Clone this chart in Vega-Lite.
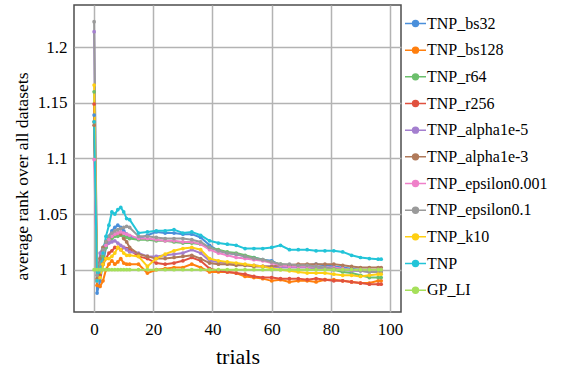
{
"$schema": "https://vega.github.io/schema/vega-lite/v6.json",
"width": 327, "height": 307,
"autosize": "none",
"padding": {"left": 74, "top": 5, "right": 170, "bottom": 57},
"background": "white",
"config": {"view": {"stroke": "#4d4d4d", "strokeWidth": 1.5}, "font": "Liberation Serif"},
"data": {"values": [
{"s":"TNP_bs32","x":0,"y":1.139},{"s":"TNP_bs32","x":1,"y":0.979},{"s":"TNP_bs32","x":2,"y":0.99},{"s":"TNP_bs32","x":3,"y":1.005},{"s":"TNP_bs32","x":4,"y":1.02},{"s":"TNP_bs32","x":5,"y":1.03},{"s":"TNP_bs32","x":6,"y":1.035},{"s":"TNP_bs32","x":7,"y":1.038},{"s":"TNP_bs32","x":8,"y":1.04},{"s":"TNP_bs32","x":9,"y":1.038},{"s":"TNP_bs32","x":10,"y":1.035},{"s":"TNP_bs32","x":11,"y":1.032},{"s":"TNP_bs32","x":12,"y":1.03},{"s":"TNP_bs32","x":15,"y":1.028},{"s":"TNP_bs32","x":18,"y":1.031},{"s":"TNP_bs32","x":21,"y":1.034},{"s":"TNP_bs32","x":24,"y":1.033},{"s":"TNP_bs32","x":27,"y":1.033},{"s":"TNP_bs32","x":30,"y":1.032},{"s":"TNP_bs32","x":33,"y":1.032},{"s":"TNP_bs32","x":36,"y":1.029},{"s":"TNP_bs32","x":39,"y":1.022},{"s":"TNP_bs32","x":42,"y":1.017},{"s":"TNP_bs32","x":45,"y":1.015},{"s":"TNP_bs32","x":48,"y":1.014},{"s":"TNP_bs32","x":51,"y":1.012},{"s":"TNP_bs32","x":54,"y":1.011},{"s":"TNP_bs32","x":57,"y":1.009},{"s":"TNP_bs32","x":60,"y":1.008},{"s":"TNP_bs32","x":63,"y":1.004},{"s":"TNP_bs32","x":66,"y":1.003},{"s":"TNP_bs32","x":69,"y":1.003},{"s":"TNP_bs32","x":72,"y":1.004},{"s":"TNP_bs32","x":75,"y":1.005},{"s":"TNP_bs32","x":78,"y":1.004},{"s":"TNP_bs32","x":81,"y":1.003},{"s":"TNP_bs32","x":84,"y":1.002},{"s":"TNP_bs32","x":87,"y":1.001},{"s":"TNP_bs32","x":90,"y":1.0},{"s":"TNP_bs32","x":93,"y":1.0},{"s":"TNP_bs32","x":96,"y":0.999},{"s":"TNP_bs32","x":97,"y":0.999},
{"s":"TNP_bs128","x":0,"y":1.133},{"s":"TNP_bs128","x":1,"y":0.986},{"s":"TNP_bs128","x":2,"y":0.985},{"s":"TNP_bs128","x":3,"y":0.99},{"s":"TNP_bs128","x":4,"y":1.0},{"s":"TNP_bs128","x":5,"y":1.005},{"s":"TNP_bs128","x":6,"y":1.008},{"s":"TNP_bs128","x":7,"y":1.005},{"s":"TNP_bs128","x":8,"y":1.007},{"s":"TNP_bs128","x":9,"y":1.01},{"s":"TNP_bs128","x":10,"y":1.006},{"s":"TNP_bs128","x":11,"y":1.005},{"s":"TNP_bs128","x":12,"y":1.005},{"s":"TNP_bs128","x":15,"y":1.005},{"s":"TNP_bs128","x":18,"y":0.997},{"s":"TNP_bs128","x":21,"y":1.0},{"s":"TNP_bs128","x":24,"y":1.001},{"s":"TNP_bs128","x":27,"y":1.002},{"s":"TNP_bs128","x":30,"y":1.002},{"s":"TNP_bs128","x":33,"y":1.005},{"s":"TNP_bs128","x":36,"y":1.002},{"s":"TNP_bs128","x":39,"y":0.998},{"s":"TNP_bs128","x":42,"y":0.998},{"s":"TNP_bs128","x":45,"y":0.998},{"s":"TNP_bs128","x":48,"y":0.997},{"s":"TNP_bs128","x":51,"y":0.994},{"s":"TNP_bs128","x":54,"y":0.993},{"s":"TNP_bs128","x":57,"y":0.992},{"s":"TNP_bs128","x":60,"y":0.99},{"s":"TNP_bs128","x":63,"y":0.991},{"s":"TNP_bs128","x":66,"y":0.989},{"s":"TNP_bs128","x":69,"y":0.99},{"s":"TNP_bs128","x":72,"y":0.99},{"s":"TNP_bs128","x":75,"y":0.989},{"s":"TNP_bs128","x":78,"y":0.991},{"s":"TNP_bs128","x":81,"y":0.991},{"s":"TNP_bs128","x":84,"y":0.99},{"s":"TNP_bs128","x":87,"y":0.989},{"s":"TNP_bs128","x":90,"y":0.988},{"s":"TNP_bs128","x":93,"y":0.988},{"s":"TNP_bs128","x":96,"y":0.99},{"s":"TNP_bs128","x":97,"y":0.99},
{"s":"TNP_r64","x":0,"y":1.16},{"s":"TNP_r64","x":1,"y":0.99},{"s":"TNP_r64","x":2,"y":0.995},{"s":"TNP_r64","x":3,"y":1.012},{"s":"TNP_r64","x":4,"y":1.02},{"s":"TNP_r64","x":5,"y":1.025},{"s":"TNP_r64","x":6,"y":1.028},{"s":"TNP_r64","x":7,"y":1.03},{"s":"TNP_r64","x":8,"y":1.03},{"s":"TNP_r64","x":9,"y":1.031},{"s":"TNP_r64","x":10,"y":1.03},{"s":"TNP_r64","x":11,"y":1.029},{"s":"TNP_r64","x":12,"y":1.028},{"s":"TNP_r64","x":15,"y":1.027},{"s":"TNP_r64","x":18,"y":1.027},{"s":"TNP_r64","x":21,"y":1.026},{"s":"TNP_r64","x":24,"y":1.026},{"s":"TNP_r64","x":27,"y":1.025},{"s":"TNP_r64","x":30,"y":1.024},{"s":"TNP_r64","x":33,"y":1.024},{"s":"TNP_r64","x":36,"y":1.023},{"s":"TNP_r64","x":39,"y":1.02},{"s":"TNP_r64","x":42,"y":1.018},{"s":"TNP_r64","x":45,"y":1.016},{"s":"TNP_r64","x":48,"y":1.015},{"s":"TNP_r64","x":51,"y":1.013},{"s":"TNP_r64","x":54,"y":1.011},{"s":"TNP_r64","x":57,"y":1.009},{"s":"TNP_r64","x":60,"y":1.007},{"s":"TNP_r64","x":63,"y":1.005},{"s":"TNP_r64","x":66,"y":1.004},{"s":"TNP_r64","x":69,"y":1.004},{"s":"TNP_r64","x":72,"y":1.003},{"s":"TNP_r64","x":75,"y":1.002},{"s":"TNP_r64","x":78,"y":1.001},{"s":"TNP_r64","x":81,"y":1.0},{"s":"TNP_r64","x":84,"y":0.998},{"s":"TNP_r64","x":87,"y":0.997},{"s":"TNP_r64","x":90,"y":0.995},{"s":"TNP_r64","x":93,"y":0.993},{"s":"TNP_r64","x":96,"y":0.993},{"s":"TNP_r64","x":97,"y":0.993},
{"s":"TNP_r256","x":0,"y":1.149},{"s":"TNP_r256","x":1,"y":0.99},{"s":"TNP_r256","x":2,"y":0.995},{"s":"TNP_r256","x":3,"y":1.005},{"s":"TNP_r256","x":4,"y":1.01},{"s":"TNP_r256","x":5,"y":1.015},{"s":"TNP_r256","x":6,"y":1.017},{"s":"TNP_r256","x":7,"y":1.02},{"s":"TNP_r256","x":8,"y":1.02},{"s":"TNP_r256","x":9,"y":1.018},{"s":"TNP_r256","x":10,"y":1.02},{"s":"TNP_r256","x":11,"y":1.019},{"s":"TNP_r256","x":12,"y":1.018},{"s":"TNP_r256","x":15,"y":1.012},{"s":"TNP_r256","x":18,"y":1.01},{"s":"TNP_r256","x":21,"y":1.006},{"s":"TNP_r256","x":24,"y":1.005},{"s":"TNP_r256","x":27,"y":1.006},{"s":"TNP_r256","x":30,"y":1.008},{"s":"TNP_r256","x":33,"y":1.011},{"s":"TNP_r256","x":36,"y":1.008},{"s":"TNP_r256","x":39,"y":1.001},{"s":"TNP_r256","x":42,"y":0.999},{"s":"TNP_r256","x":45,"y":0.998},{"s":"TNP_r256","x":48,"y":0.997},{"s":"TNP_r256","x":51,"y":0.996},{"s":"TNP_r256","x":54,"y":0.994},{"s":"TNP_r256","x":57,"y":0.993},{"s":"TNP_r256","x":60,"y":0.993},{"s":"TNP_r256","x":63,"y":0.992},{"s":"TNP_r256","x":66,"y":0.992},{"s":"TNP_r256","x":69,"y":0.992},{"s":"TNP_r256","x":72,"y":0.991},{"s":"TNP_r256","x":75,"y":0.992},{"s":"TNP_r256","x":78,"y":0.991},{"s":"TNP_r256","x":81,"y":0.99},{"s":"TNP_r256","x":84,"y":0.99},{"s":"TNP_r256","x":87,"y":0.989},{"s":"TNP_r256","x":90,"y":0.988},{"s":"TNP_r256","x":93,"y":0.987},{"s":"TNP_r256","x":96,"y":0.987},{"s":"TNP_r256","x":97,"y":0.987},
{"s":"TNP_alpha1e-5","x":0,"y":1.214},{"s":"TNP_alpha1e-5","x":1,"y":0.99},{"s":"TNP_alpha1e-5","x":2,"y":1.015},{"s":"TNP_alpha1e-5","x":3,"y":1.02},{"s":"TNP_alpha1e-5","x":4,"y":1.022},{"s":"TNP_alpha1e-5","x":5,"y":1.024},{"s":"TNP_alpha1e-5","x":6,"y":1.025},{"s":"TNP_alpha1e-5","x":7,"y":1.026},{"s":"TNP_alpha1e-5","x":8,"y":1.024},{"s":"TNP_alpha1e-5","x":9,"y":1.022},{"s":"TNP_alpha1e-5","x":10,"y":1.02},{"s":"TNP_alpha1e-5","x":11,"y":1.018},{"s":"TNP_alpha1e-5","x":12,"y":1.016},{"s":"TNP_alpha1e-5","x":15,"y":1.015},{"s":"TNP_alpha1e-5","x":18,"y":1.012},{"s":"TNP_alpha1e-5","x":21,"y":1.012},{"s":"TNP_alpha1e-5","x":24,"y":1.013},{"s":"TNP_alpha1e-5","x":27,"y":1.014},{"s":"TNP_alpha1e-5","x":30,"y":1.015},{"s":"TNP_alpha1e-5","x":33,"y":1.018},{"s":"TNP_alpha1e-5","x":36,"y":1.015},{"s":"TNP_alpha1e-5","x":39,"y":1.008},{"s":"TNP_alpha1e-5","x":42,"y":1.007},{"s":"TNP_alpha1e-5","x":45,"y":1.006},{"s":"TNP_alpha1e-5","x":48,"y":1.005},{"s":"TNP_alpha1e-5","x":51,"y":1.004},{"s":"TNP_alpha1e-5","x":54,"y":1.004},{"s":"TNP_alpha1e-5","x":57,"y":1.003},{"s":"TNP_alpha1e-5","x":60,"y":1.003},{"s":"TNP_alpha1e-5","x":63,"y":1.002},{"s":"TNP_alpha1e-5","x":66,"y":1.002},{"s":"TNP_alpha1e-5","x":69,"y":1.002},{"s":"TNP_alpha1e-5","x":72,"y":1.002},{"s":"TNP_alpha1e-5","x":75,"y":1.001},{"s":"TNP_alpha1e-5","x":78,"y":1.001},{"s":"TNP_alpha1e-5","x":81,"y":1.0},{"s":"TNP_alpha1e-5","x":84,"y":1.0},{"s":"TNP_alpha1e-5","x":87,"y":0.999},{"s":"TNP_alpha1e-5","x":90,"y":0.999},{"s":"TNP_alpha1e-5","x":93,"y":0.998},{"s":"TNP_alpha1e-5","x":96,"y":0.998},{"s":"TNP_alpha1e-5","x":97,"y":0.998},
{"s":"TNP_alpha1e-3","x":0,"y":1.13},{"s":"TNP_alpha1e-3","x":1,"y":0.992},{"s":"TNP_alpha1e-3","x":2,"y":1.01},{"s":"TNP_alpha1e-3","x":3,"y":1.02},{"s":"TNP_alpha1e-3","x":4,"y":1.025},{"s":"TNP_alpha1e-3","x":5,"y":1.028},{"s":"TNP_alpha1e-3","x":6,"y":1.03},{"s":"TNP_alpha1e-3","x":7,"y":1.032},{"s":"TNP_alpha1e-3","x":8,"y":1.033},{"s":"TNP_alpha1e-3","x":9,"y":1.032},{"s":"TNP_alpha1e-3","x":10,"y":1.028},{"s":"TNP_alpha1e-3","x":11,"y":1.025},{"s":"TNP_alpha1e-3","x":12,"y":1.02},{"s":"TNP_alpha1e-3","x":15,"y":1.014},{"s":"TNP_alpha1e-3","x":18,"y":1.012},{"s":"TNP_alpha1e-3","x":21,"y":1.01},{"s":"TNP_alpha1e-3","x":24,"y":1.01},{"s":"TNP_alpha1e-3","x":27,"y":1.011},{"s":"TNP_alpha1e-3","x":30,"y":1.012},{"s":"TNP_alpha1e-3","x":33,"y":1.013},{"s":"TNP_alpha1e-3","x":36,"y":1.01},{"s":"TNP_alpha1e-3","x":39,"y":1.006},{"s":"TNP_alpha1e-3","x":42,"y":1.005},{"s":"TNP_alpha1e-3","x":45,"y":1.005},{"s":"TNP_alpha1e-3","x":48,"y":1.004},{"s":"TNP_alpha1e-3","x":51,"y":1.004},{"s":"TNP_alpha1e-3","x":54,"y":1.003},{"s":"TNP_alpha1e-3","x":57,"y":1.003},{"s":"TNP_alpha1e-3","x":60,"y":1.003},{"s":"TNP_alpha1e-3","x":63,"y":1.004},{"s":"TNP_alpha1e-3","x":66,"y":1.004},{"s":"TNP_alpha1e-3","x":69,"y":1.005},{"s":"TNP_alpha1e-3","x":72,"y":1.005},{"s":"TNP_alpha1e-3","x":75,"y":1.005},{"s":"TNP_alpha1e-3","x":78,"y":1.005},{"s":"TNP_alpha1e-3","x":81,"y":1.005},{"s":"TNP_alpha1e-3","x":84,"y":1.004},{"s":"TNP_alpha1e-3","x":87,"y":1.003},{"s":"TNP_alpha1e-3","x":90,"y":1.002},{"s":"TNP_alpha1e-3","x":93,"y":1.002},{"s":"TNP_alpha1e-3","x":96,"y":1.002},{"s":"TNP_alpha1e-3","x":97,"y":1.002},
{"s":"TNP_epsilon0.001","x":0,"y":1.099},{"s":"TNP_epsilon0.001","x":1,"y":0.99},{"s":"TNP_epsilon0.001","x":2,"y":1.0},{"s":"TNP_epsilon0.001","x":3,"y":1.015},{"s":"TNP_epsilon0.001","x":4,"y":1.022},{"s":"TNP_epsilon0.001","x":5,"y":1.027},{"s":"TNP_epsilon0.001","x":6,"y":1.03},{"s":"TNP_epsilon0.001","x":7,"y":1.032},{"s":"TNP_epsilon0.001","x":8,"y":1.033},{"s":"TNP_epsilon0.001","x":9,"y":1.034},{"s":"TNP_epsilon0.001","x":10,"y":1.033},{"s":"TNP_epsilon0.001","x":11,"y":1.032},{"s":"TNP_epsilon0.001","x":12,"y":1.031},{"s":"TNP_epsilon0.001","x":15,"y":1.028},{"s":"TNP_epsilon0.001","x":18,"y":1.028},{"s":"TNP_epsilon0.001","x":21,"y":1.027},{"s":"TNP_epsilon0.001","x":24,"y":1.026},{"s":"TNP_epsilon0.001","x":27,"y":1.026},{"s":"TNP_epsilon0.001","x":30,"y":1.025},{"s":"TNP_epsilon0.001","x":33,"y":1.025},{"s":"TNP_epsilon0.001","x":36,"y":1.023},{"s":"TNP_epsilon0.001","x":39,"y":1.018},{"s":"TNP_epsilon0.001","x":42,"y":1.015},{"s":"TNP_epsilon0.001","x":45,"y":1.013},{"s":"TNP_epsilon0.001","x":48,"y":1.011},{"s":"TNP_epsilon0.001","x":51,"y":1.01},{"s":"TNP_epsilon0.001","x":54,"y":1.009},{"s":"TNP_epsilon0.001","x":57,"y":1.008},{"s":"TNP_epsilon0.001","x":60,"y":1.006},{"s":"TNP_epsilon0.001","x":63,"y":1.004},{"s":"TNP_epsilon0.001","x":66,"y":1.003},{"s":"TNP_epsilon0.001","x":69,"y":1.003},{"s":"TNP_epsilon0.001","x":72,"y":1.003},{"s":"TNP_epsilon0.001","x":75,"y":1.003},{"s":"TNP_epsilon0.001","x":78,"y":1.002},{"s":"TNP_epsilon0.001","x":81,"y":1.002},{"s":"TNP_epsilon0.001","x":84,"y":1.001},{"s":"TNP_epsilon0.001","x":87,"y":1.0},{"s":"TNP_epsilon0.001","x":90,"y":1.0},{"s":"TNP_epsilon0.001","x":93,"y":1.0},{"s":"TNP_epsilon0.001","x":96,"y":1.0},{"s":"TNP_epsilon0.001","x":97,"y":1.0},
{"s":"TNP_epsilon0.1","x":0,"y":1.223},{"s":"TNP_epsilon0.1","x":1,"y":0.995},{"s":"TNP_epsilon0.1","x":2,"y":1.005},{"s":"TNP_epsilon0.1","x":3,"y":1.018},{"s":"TNP_epsilon0.1","x":4,"y":1.025},{"s":"TNP_epsilon0.1","x":5,"y":1.03},{"s":"TNP_epsilon0.1","x":6,"y":1.033},{"s":"TNP_epsilon0.1","x":7,"y":1.035},{"s":"TNP_epsilon0.1","x":8,"y":1.036},{"s":"TNP_epsilon0.1","x":9,"y":1.037},{"s":"TNP_epsilon0.1","x":10,"y":1.038},{"s":"TNP_epsilon0.1","x":11,"y":1.039},{"s":"TNP_epsilon0.1","x":12,"y":1.038},{"s":"TNP_epsilon0.1","x":15,"y":1.03},{"s":"TNP_epsilon0.1","x":18,"y":1.03},{"s":"TNP_epsilon0.1","x":21,"y":1.029},{"s":"TNP_epsilon0.1","x":24,"y":1.028},{"s":"TNP_epsilon0.1","x":27,"y":1.028},{"s":"TNP_epsilon0.1","x":30,"y":1.028},{"s":"TNP_epsilon0.1","x":33,"y":1.027},{"s":"TNP_epsilon0.1","x":36,"y":1.025},{"s":"TNP_epsilon0.1","x":39,"y":1.02},{"s":"TNP_epsilon0.1","x":42,"y":1.017},{"s":"TNP_epsilon0.1","x":45,"y":1.015},{"s":"TNP_epsilon0.1","x":48,"y":1.014},{"s":"TNP_epsilon0.1","x":51,"y":1.012},{"s":"TNP_epsilon0.1","x":54,"y":1.01},{"s":"TNP_epsilon0.1","x":57,"y":1.009},{"s":"TNP_epsilon0.1","x":60,"y":1.007},{"s":"TNP_epsilon0.1","x":63,"y":1.005},{"s":"TNP_epsilon0.1","x":66,"y":1.005},{"s":"TNP_epsilon0.1","x":69,"y":1.004},{"s":"TNP_epsilon0.1","x":72,"y":1.004},{"s":"TNP_epsilon0.1","x":75,"y":1.003},{"s":"TNP_epsilon0.1","x":78,"y":1.002},{"s":"TNP_epsilon0.1","x":81,"y":1.001},{"s":"TNP_epsilon0.1","x":84,"y":1.0},{"s":"TNP_epsilon0.1","x":87,"y":1.0},{"s":"TNP_epsilon0.1","x":90,"y":0.999},{"s":"TNP_epsilon0.1","x":93,"y":0.998},{"s":"TNP_epsilon0.1","x":96,"y":0.998},{"s":"TNP_epsilon0.1","x":97,"y":0.998},
{"s":"TNP_k10","x":0,"y":1.166},{"s":"TNP_k10","x":1,"y":0.99},{"s":"TNP_k10","x":2,"y":0.993},{"s":"TNP_k10","x":3,"y":1.005},{"s":"TNP_k10","x":4,"y":1.01},{"s":"TNP_k10","x":5,"y":1.01},{"s":"TNP_k10","x":6,"y":1.012},{"s":"TNP_k10","x":7,"y":1.015},{"s":"TNP_k10","x":8,"y":1.02},{"s":"TNP_k10","x":9,"y":1.018},{"s":"TNP_k10","x":10,"y":1.015},{"s":"TNP_k10","x":11,"y":1.013},{"s":"TNP_k10","x":12,"y":1.013},{"s":"TNP_k10","x":15,"y":1.012},{"s":"TNP_k10","x":18,"y":1.003},{"s":"TNP_k10","x":21,"y":1.01},{"s":"TNP_k10","x":24,"y":1.014},{"s":"TNP_k10","x":27,"y":1.017},{"s":"TNP_k10","x":30,"y":1.019},{"s":"TNP_k10","x":33,"y":1.02},{"s":"TNP_k10","x":36,"y":1.018},{"s":"TNP_k10","x":39,"y":1.01},{"s":"TNP_k10","x":42,"y":1.008},{"s":"TNP_k10","x":45,"y":1.007},{"s":"TNP_k10","x":48,"y":1.006},{"s":"TNP_k10","x":51,"y":1.005},{"s":"TNP_k10","x":54,"y":1.004},{"s":"TNP_k10","x":57,"y":1.003},{"s":"TNP_k10","x":60,"y":1.001},{"s":"TNP_k10","x":63,"y":1.0},{"s":"TNP_k10","x":66,"y":0.999},{"s":"TNP_k10","x":69,"y":0.998},{"s":"TNP_k10","x":72,"y":0.997},{"s":"TNP_k10","x":75,"y":0.997},{"s":"TNP_k10","x":78,"y":0.997},{"s":"TNP_k10","x":81,"y":0.996},{"s":"TNP_k10","x":84,"y":0.995},{"s":"TNP_k10","x":87,"y":0.995},{"s":"TNP_k10","x":90,"y":0.994},{"s":"TNP_k10","x":93,"y":0.995},{"s":"TNP_k10","x":96,"y":0.996},{"s":"TNP_k10","x":97,"y":0.996},
{"s":"TNP","x":0,"y":1.133},{"s":"TNP","x":1,"y":0.99},{"s":"TNP","x":2,"y":1.0},{"s":"TNP","x":3,"y":1.015},{"s":"TNP","x":4,"y":1.03},{"s":"TNP","x":5,"y":1.04},{"s":"TNP","x":6,"y":1.052},{"s":"TNP","x":7,"y":1.05},{"s":"TNP","x":8,"y":1.054},{"s":"TNP","x":9,"y":1.056},{"s":"TNP","x":10,"y":1.052},{"s":"TNP","x":11,"y":1.046},{"s":"TNP","x":12,"y":1.045},{"s":"TNP","x":15,"y":1.033},{"s":"TNP","x":18,"y":1.034},{"s":"TNP","x":21,"y":1.035},{"s":"TNP","x":24,"y":1.035},{"s":"TNP","x":27,"y":1.036},{"s":"TNP","x":30,"y":1.033},{"s":"TNP","x":33,"y":1.034},{"s":"TNP","x":36,"y":1.031},{"s":"TNP","x":39,"y":1.026},{"s":"TNP","x":42,"y":1.024},{"s":"TNP","x":45,"y":1.023},{"s":"TNP","x":48,"y":1.022},{"s":"TNP","x":51,"y":1.019},{"s":"TNP","x":54,"y":1.019},{"s":"TNP","x":57,"y":1.019},{"s":"TNP","x":60,"y":1.02},{"s":"TNP","x":63,"y":1.022},{"s":"TNP","x":66,"y":1.018},{"s":"TNP","x":69,"y":1.018},{"s":"TNP","x":72,"y":1.018},{"s":"TNP","x":75,"y":1.017},{"s":"TNP","x":78,"y":1.017},{"s":"TNP","x":81,"y":1.017},{"s":"TNP","x":84,"y":1.016},{"s":"TNP","x":87,"y":1.013},{"s":"TNP","x":90,"y":1.011},{"s":"TNP","x":93,"y":1.01},{"s":"TNP","x":96,"y":1.0095},{"s":"TNP","x":97,"y":1.0095},
{"s":"GP_LI","x":0,"y":1.0},{"s":"GP_LI","x":1,"y":1.0},{"s":"GP_LI","x":2,"y":1.0},{"s":"GP_LI","x":3,"y":1.0},{"s":"GP_LI","x":4,"y":1.0},{"s":"GP_LI","x":5,"y":1.0},{"s":"GP_LI","x":6,"y":1.0},{"s":"GP_LI","x":7,"y":1.0},{"s":"GP_LI","x":8,"y":1.0},{"s":"GP_LI","x":9,"y":1.0},{"s":"GP_LI","x":10,"y":1.0},{"s":"GP_LI","x":11,"y":1.0},{"s":"GP_LI","x":12,"y":1.0},{"s":"GP_LI","x":15,"y":1.0},{"s":"GP_LI","x":18,"y":1.0},{"s":"GP_LI","x":21,"y":1.0},{"s":"GP_LI","x":24,"y":1.0},{"s":"GP_LI","x":27,"y":1.0},{"s":"GP_LI","x":30,"y":1.0},{"s":"GP_LI","x":33,"y":1.0},{"s":"GP_LI","x":36,"y":1.0},{"s":"GP_LI","x":39,"y":1.0},{"s":"GP_LI","x":42,"y":1.0},{"s":"GP_LI","x":45,"y":1.0},{"s":"GP_LI","x":48,"y":1.0},{"s":"GP_LI","x":51,"y":1.0},{"s":"GP_LI","x":54,"y":1.0},{"s":"GP_LI","x":57,"y":1.0},{"s":"GP_LI","x":60,"y":1.0},{"s":"GP_LI","x":63,"y":1.0},{"s":"GP_LI","x":66,"y":1.0},{"s":"GP_LI","x":69,"y":1.0},{"s":"GP_LI","x":72,"y":1.0},{"s":"GP_LI","x":75,"y":1.0},{"s":"GP_LI","x":78,"y":1.0},{"s":"GP_LI","x":81,"y":1.0},{"s":"GP_LI","x":84,"y":1.0},{"s":"GP_LI","x":87,"y":1.0},{"s":"GP_LI","x":90,"y":1.0},{"s":"GP_LI","x":93,"y":1.0},{"s":"GP_LI","x":96,"y":1.0},{"s":"GP_LI","x":97,"y":1.0}
]},
"encoding": {
  "x": {"field": "x", "type": "quantitative",
    "scale": {"domain": [-6.8, 103.7], "nice": false, "zero": false},
    "axis": {"values": [0, 20, 40, 60, 80, 100], "title": "trials", "ticks": false, "domain": false,
      "grid": true, "gridColor": "#b3b3b3", "gridWidth": 1.5,
      "labelFont": "Liberation Serif", "labelFontSize": 17, "labelColor": "black", "labelPadding": 9,
      "titleFont": "Liberation Serif", "titleFontSize": 22, "titleFontWeight": "normal", "titleColor": "black", "titlePadding": 9}},
  "y": {"field": "y", "type": "quantitative",
    "scale": {"domain": [0.962, 1.238], "nice": false, "zero": false},
    "axis": {"values": [1, 1.05, 1.1, 1.15, 1.2], "labelExpr": "format(datum.value, '~g')",
      "title": "average rank over all datasets", "ticks": false, "domain": false,
      "grid": true, "gridColor": "#b3b3b3", "gridWidth": 1.5,
      "labelFont": "Liberation Serif", "labelFontSize": 17, "labelColor": "black", "labelPadding": 7,
      "titleFont": "Liberation Serif", "titleFontSize": 17.6, "titleFontWeight": "normal", "titleColor": "black",
      "titleX": -52, "titleY": 171, "titleBaseline": "middle"}},
  "color": {"field": "s", "type": "nominal",
    "scale": {"domain": ["TNP_bs32", "TNP_bs128", "TNP_r64", "TNP_r256", "TNP_alpha1e-5", "TNP_alpha1e-3", "TNP_epsilon0.001", "TNP_epsilon0.1", "TNP_k10", "TNP", "GP_LI"],
      "range": ["#4a8fdb", "#ff7f0e", "#6cbf6c", "#e0513f", "#a47fcf", "#b07a5a", "#ef80c9", "#9a9a9a", "#ffcf12", "#22c4d8", "#a6e05a"]},
    "legend": {"orient": "none", "legendX": 330, "legendY": 7, "title": null,
      "symbolType": "M-1,0H1M-0.28,0A0.28,0.28 0 1,0 0.28,0A0.28,0.28 0 1,0 -0.28,0",
      "symbolSize": 441, "symbolStrokeWidth": 1.5, "padding": 0, "rowPadding": 6.67, "labelOffset": 0,
      "labelFont": "Liberation Serif", "labelFontSize": 16, "labelColor": "black", "labelLimit": 200,
      "encode": {"symbols": {"update": {"fill": {"scale": "color", "field": "value"}, "stroke": {"scale": "color", "field": "value"}}}}}}
},
"layer": [
  {"mark": {"type": "line", "strokeWidth": 2}},
  {"mark": {"type": "point", "filled": true, "size": 14, "opacity": 1, "shape": "circle"}}
]
}
